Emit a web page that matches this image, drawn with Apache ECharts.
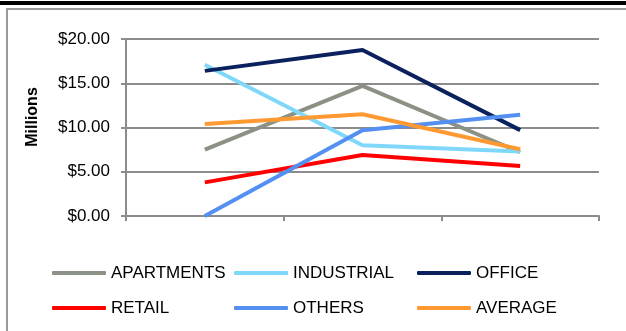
<!DOCTYPE html>
<html><head><meta charset="utf-8">
<script src="https://cdn.jsdelivr.net/npm/echarts@6/dist/echarts.min.js"></script>
<style>html,body{margin:0;padding:0;background:#fff}#c{width:626px;height:331px}</style>
</head><body><div id="c"></div>
<script>
const categories = ['A', 'B', 'C'];
const apartments = [7.5, 14.7, 7.2];
const industrial = [17.1, 8.0, 7.3];
const office = [16.4, 18.75, 9.7];
const retail = [3.8, 6.9, 5.65];
const others = [0.0, 9.7, 11.45];
const average = [10.4, 11.5, 7.55];
const yTicks = [0, 5, 10, 15, 20];

const names = ['APARTMENTS','INDUSTRIAL','OFFICE','RETAIL','OTHERS','AVERAGE'];
const colors = ['#8b9184','#7fd8fa','#0b215e','#ff0000','#5390f2','#ff9a33'];
const datas = [apartments, industrial, office, retail, others, average];

const chart = echarts.init(document.getElementById('c'));
const font = 'Liberation Sans, Arial, sans-serif';
const legendBase = {
  orient: 'vertical', top: 264, itemGap: 17, itemWidth: 54, itemHeight: 4, padding: 0,
  icon: 'roundRect', textStyle: {fontFamily: font, fontSize: 17, lineHeight: 18, color: '#000'},
  selectedMode: false
};
chart.setOption({
  animation: false,
  backgroundColor: '#fff',
  graphic: [
    {type: 'rect', shape: {x: 0, y: 1, width: 626, height: 4}, style: {fill: '#000'}},
    {type: 'rect', shape: {x: 7, y: 9, width: 640, height: 340}, style: {fill: 'none', stroke: '#9a9a9a', lineWidth: 2}},
    {type: 'text', x: 33, y: 117, rotation: Math.PI/2, style: {text: 'Millions', font: 'bold 16px Liberation Sans, Arial, sans-serif', fill: '#000', align: 'center', verticalAlign: 'middle'}}
  ],
  grid: {left: 126, top: 39, width: 473, height: 177, containLabel: false},
  legend: [
    Object.assign({}, legendBase, {left: 52, data: [names[0], names[3]]}),
    Object.assign({}, legendBase, {left: 234, data: [names[1], names[4]]}),
    Object.assign({}, legendBase, {left: 417, data: [names[2], names[5]]})
  ],
  xAxis: {
    type: 'category', data: categories, boundaryGap: true,
    axisLine: {lineStyle: {color: '#8c8c8c', width: 2}},
    axisTick: {show: true, length: 5, lineStyle: {color: '#8c8c8c', width: 2}},
    axisLabel: {show: false}
  },
  yAxis: {
    type: 'value', min: yTicks[0], max: yTicks[yTicks.length-1], interval: 5,
    axisLine: {show: true, lineStyle: {color: '#8c8c8c', width: 2}},
    axisTick: {show: true, length: 5, lineStyle: {color: '#8c8c8c', width: 2}},
    splitLine: {lineStyle: {color: '#8c8c8c', width: 2}},
    axisLabel: {margin: 16, fontFamily: font, fontSize: 17, color: '#000', formatter: v => '$' + v.toFixed(2)}
  },
  series: names.map((n, i) => ({
    name: n, type: 'line', data: datas[i], showSymbol: false, symbol: 'none',
    color: colors[i], lineStyle: {width: 4, color: colors[i]}
  }))
});
</script></body></html>
